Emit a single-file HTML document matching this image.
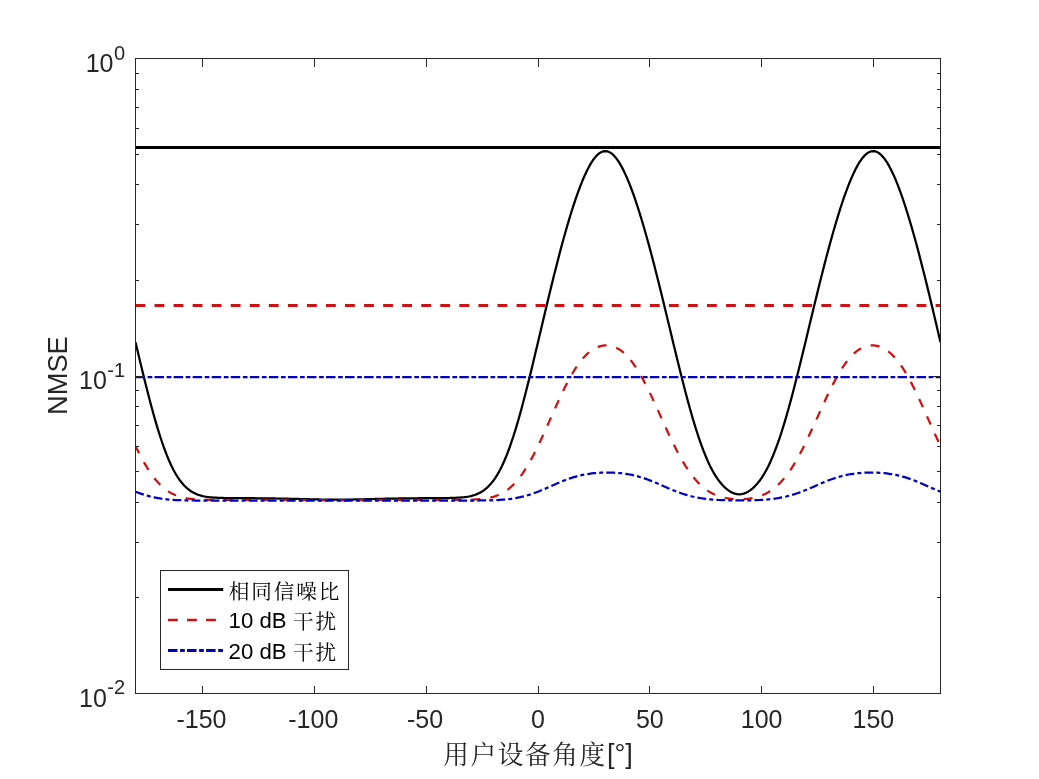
<!DOCTYPE html>
<html lang="zh"><head><meta charset="utf-8"><title>NMSE</title>
<style>html,body{margin:0;padding:0;background:#fff}svg{display:block}text{font-family:"Liberation Sans","Noto Sans CJK SC",sans-serif}.cjk{font-weight:400;font-family:"Liberation Sans","Noto Serif CJK SC","Noto Sans CJK SC",serif}</style></head><body>
<svg width="1039" height="779" viewBox="0 0 1039 779">
<rect width="1039" height="779" fill="#fff"/>
<clipPath id="c"><rect x="135.5" y="58.5" width="805.0" height="635.0"/></clipPath>
<g clip-path="url(#c)" fill="none" stroke-linejoin="round">
<path d="M135.5,147.5 H940.5" stroke="#000" stroke-width="3"/>
<path d="M135.50,342.16 L137.74,351.60 L139.97,360.98 L142.21,370.24 L144.44,379.37 L146.68,388.33 L148.92,397.06 L151.15,405.55 L153.39,413.74 L155.62,421.62 L157.86,429.13 L160.10,436.26 L162.33,442.98 L164.57,449.27 L166.81,455.12 L169.04,460.51 L171.28,465.45 L173.51,469.94 L175.75,473.97 L177.99,477.58 L180.22,480.78 L182.46,483.59 L184.69,486.04 L186.93,488.15 L189.17,489.96 L191.40,491.49 L193.64,492.78 L195.88,493.85 L198.11,494.73 L200.35,495.46 L202.58,496.04 L204.82,496.51 L207.06,496.88 L209.29,497.18 L211.53,497.41 L213.76,497.59 L216.00,497.73 L218.24,497.84 L220.47,497.93 L222.71,497.99 L224.94,498.04 L227.18,498.08 L229.42,498.11 L231.65,498.13 L233.89,498.15 L236.12,498.16 L238.36,498.17 L240.60,498.19 L242.83,498.19 L245.07,498.20 L247.31,498.21 L249.54,498.22 L251.78,498.23 L254.01,498.24 L256.25,498.26 L258.49,498.27 L260.72,498.29 L262.96,498.31 L265.19,498.34 L267.43,498.36 L269.67,498.39 L271.90,498.43 L274.14,498.46 L276.38,498.50 L278.61,498.54 L280.85,498.58 L283.08,498.62 L285.32,498.67 L287.56,498.71 L289.79,498.76 L292.03,498.81 L294.26,498.87 L296.50,498.92 L298.74,498.97 L300.97,499.03 L303.21,499.08 L305.44,499.14 L307.68,499.20 L309.92,499.25 L312.15,499.31 L314.39,499.36 L316.62,499.42 L318.86,499.47 L321.10,499.52 L323.33,499.57 L325.57,499.61 L327.81,499.65 L330.04,499.68 L332.28,499.71 L334.51,499.72 L336.75,499.73 L338.99,499.72 L341.22,499.71 L343.46,499.68 L345.69,499.65 L347.93,499.61 L350.17,499.57 L352.40,499.52 L354.64,499.47 L356.88,499.42 L359.11,499.36 L361.35,499.31 L363.58,499.25 L365.82,499.20 L368.06,499.14 L370.29,499.08 L372.53,499.03 L374.76,498.97 L377.00,498.92 L379.24,498.87 L381.47,498.81 L383.71,498.76 L385.94,498.71 L388.18,498.67 L390.42,498.62 L392.65,498.58 L394.89,498.54 L397.12,498.50 L399.36,498.46 L401.60,498.43 L403.83,498.39 L406.07,498.36 L408.31,498.34 L410.54,498.31 L412.78,498.29 L415.01,498.27 L417.25,498.26 L419.49,498.24 L421.72,498.23 L423.96,498.22 L426.19,498.21 L428.43,498.20 L430.67,498.19 L432.90,498.19 L435.14,498.17 L437.38,498.16 L439.61,498.15 L441.85,498.13 L444.08,498.11 L446.32,498.08 L448.56,498.04 L450.79,497.99 L453.03,497.93 L455.26,497.84 L457.50,497.73 L459.74,497.59 L461.97,497.41 L464.21,497.18 L466.44,496.88 L468.68,496.51 L470.92,496.04 L473.15,495.46 L475.39,494.73 L477.62,493.85 L479.86,492.78 L482.10,491.49 L484.33,489.96 L486.57,488.15 L488.81,486.04 L491.04,483.59 L493.28,480.78 L495.51,477.58 L497.75,473.97 L499.99,469.94 L502.22,465.45 L504.46,460.51 L506.69,455.12 L508.93,449.27 L511.17,442.98 L513.40,436.26 L515.64,429.13 L517.88,421.62 L520.11,413.74 L522.35,405.55 L524.58,397.06 L526.82,388.33 L529.06,379.37 L531.29,370.24 L533.53,360.98 L535.76,351.60 L538.00,342.16 L540.24,332.69 L542.47,323.21 L544.71,313.77 L546.94,304.38 L549.18,295.08 L551.42,285.88 L553.65,276.82 L555.89,267.91 L558.12,259.18 L560.36,250.64 L562.60,242.32 L564.83,234.23 L567.07,226.39 L569.31,218.82 L571.54,211.54 L573.78,204.56 L576.01,197.90 L578.25,191.58 L580.49,185.63 L582.72,180.07 L584.96,174.91 L587.19,170.19 L589.43,165.92 L591.67,162.15 L593.90,158.88 L596.14,156.16 L598.38,154.00 L600.61,152.42 L602.85,151.44 L605.08,151.07 L607.32,151.32 L609.56,152.18 L611.79,153.64 L614.03,155.69 L616.26,158.30 L618.50,161.45 L620.74,165.12 L622.97,169.27 L625.21,173.89 L627.44,178.95 L629.68,184.41 L631.92,190.26 L634.15,196.47 L636.39,203.02 L638.62,209.89 L640.86,217.06 L643.10,224.52 L645.33,232.24 L647.57,240.21 L649.81,248.40 L652.04,256.80 L654.28,265.40 L656.51,274.16 L658.75,283.07 L660.99,292.11 L663.22,301.26 L665.46,310.49 L667.69,319.77 L669.93,329.08 L672.17,338.39 L674.40,347.67 L676.64,356.88 L678.88,366.00 L681.11,375.00 L683.35,383.82 L685.58,392.46 L687.82,400.86 L690.06,408.99 L692.29,416.83 L694.53,424.35 L696.76,431.51 L699.00,438.30 L701.24,444.70 L703.47,450.69 L705.71,456.26 L707.94,461.41 L710.18,466.15 L712.42,470.46 L714.65,474.38 L716.89,477.89 L719.12,481.04 L721.36,483.82 L723.60,486.26 L725.83,488.36 L728.07,490.16 L730.31,491.64 L732.54,492.81 L734.78,493.66 L737.01,494.18 L739.25,494.35 L741.49,494.18 L743.72,493.66 L745.96,492.81 L748.19,491.64 L750.43,490.16 L752.67,488.36 L754.90,486.26 L757.14,483.82 L759.38,481.04 L761.61,477.89 L763.85,474.38 L766.08,470.46 L768.32,466.15 L770.56,461.41 L772.79,456.26 L775.03,450.69 L777.26,444.70 L779.50,438.30 L781.74,431.51 L783.97,424.35 L786.21,416.83 L788.44,408.99 L790.68,400.86 L792.92,392.46 L795.15,383.82 L797.39,375.00 L799.62,366.00 L801.86,356.88 L804.10,347.67 L806.33,338.39 L808.57,329.08 L810.81,319.77 L813.04,310.49 L815.28,301.26 L817.51,292.11 L819.75,283.07 L821.99,274.16 L824.22,265.40 L826.46,256.80 L828.69,248.40 L830.93,240.21 L833.17,232.24 L835.40,224.52 L837.64,217.06 L839.88,209.89 L842.11,203.02 L844.35,196.47 L846.58,190.26 L848.82,184.41 L851.06,178.95 L853.29,173.89 L855.53,169.27 L857.76,165.12 L860.00,161.45 L862.24,158.30 L864.47,155.69 L866.71,153.64 L868.94,152.18 L871.18,151.32 L873.42,151.07 L875.65,151.44 L877.89,152.42 L880.12,154.00 L882.36,156.16 L884.60,158.88 L886.83,162.15 L889.07,165.92 L891.31,170.19 L893.54,174.91 L895.78,180.07 L898.01,185.63 L900.25,191.58 L902.49,197.90 L904.72,204.56 L906.96,211.54 L909.19,218.82 L911.43,226.39 L913.67,234.23 L915.90,242.32 L918.14,250.64 L920.38,259.18 L922.61,267.91 L924.85,276.82 L927.08,285.88 L929.32,295.08 L931.56,304.38 L933.79,313.77 L936.03,323.21 L938.26,332.69 L940.50,342.16" stroke="#000" stroke-width="2.25"/>
<path d="M135.5,305.5 H940.5" stroke="#cc1212" stroke-width="3" stroke-dasharray="9.8 9.25"/>
<path d="M135.50,446.02 L137.74,450.57 L139.97,454.96 L142.21,459.16 L144.44,463.15 L146.68,466.93 L148.92,470.49 L151.15,473.81 L153.39,476.89 L155.62,479.72 L157.86,482.32 L160.10,484.67 L162.33,486.80 L164.57,488.70 L166.81,490.39 L169.04,491.89 L171.28,493.19 L173.51,494.32 L175.75,495.30 L177.99,496.13 L180.22,496.84 L182.46,497.43 L184.69,497.92 L186.93,498.33 L189.17,498.66 L191.40,498.94 L193.64,499.15 L195.88,499.33 L198.11,499.47 L200.35,499.58 L202.58,499.66 L204.82,499.73 L207.06,499.78 L209.29,499.82 L211.53,499.85 L213.76,499.87 L216.00,499.88 L218.24,499.89 L220.47,499.90 L222.71,499.91 L224.94,499.91 L227.18,499.91 L229.42,499.91 L231.65,499.91 L233.89,499.91 L236.12,499.91 L238.36,499.90 L240.60,499.90 L242.83,499.89 L245.07,499.89 L247.31,499.88 L249.54,499.88 L251.78,499.87 L254.01,499.87 L256.25,499.87 L258.49,499.86 L260.72,499.86 L262.96,499.86 L265.19,499.85 L267.43,499.85 L269.67,499.85 L271.90,499.86 L274.14,499.86 L276.38,499.86 L278.61,499.87 L280.85,499.88 L283.08,499.89 L285.32,499.90 L287.56,499.91 L289.79,499.92 L292.03,499.94 L294.26,499.96 L296.50,499.97 L298.74,499.99 L300.97,500.01 L303.21,500.03 L305.44,500.05 L307.68,500.07 L309.92,500.09 L312.15,500.12 L314.39,500.14 L316.62,500.16 L318.86,500.18 L321.10,500.20 L323.33,500.22 L325.57,500.24 L327.81,500.25 L330.04,500.26 L332.28,500.27 L334.51,500.28 L336.75,500.28 L338.99,500.28 L341.22,500.27 L343.46,500.26 L345.69,500.25 L347.93,500.24 L350.17,500.22 L352.40,500.20 L354.64,500.18 L356.88,500.16 L359.11,500.14 L361.35,500.12 L363.58,500.09 L365.82,500.07 L368.06,500.05 L370.29,500.03 L372.53,500.01 L374.76,499.99 L377.00,499.97 L379.24,499.96 L381.47,499.94 L383.71,499.92 L385.94,499.91 L388.18,499.90 L390.42,499.89 L392.65,499.88 L394.89,499.87 L397.12,499.86 L399.36,499.86 L401.60,499.86 L403.83,499.85 L406.07,499.85 L408.31,499.85 L410.54,499.86 L412.78,499.86 L415.01,499.86 L417.25,499.87 L419.49,499.87 L421.72,499.87 L423.96,499.88 L426.19,499.88 L428.43,499.89 L430.67,499.89 L432.90,499.90 L435.14,499.90 L437.38,499.91 L439.61,499.91 L441.85,499.91 L444.08,499.91 L446.32,499.91 L448.56,499.91 L450.79,499.91 L453.03,499.90 L455.26,499.89 L457.50,499.88 L459.74,499.87 L461.97,499.85 L464.21,499.82 L466.44,499.78 L468.68,499.73 L470.92,499.66 L473.15,499.58 L475.39,499.47 L477.62,499.33 L479.86,499.15 L482.10,498.94 L484.33,498.66 L486.57,498.33 L488.81,497.92 L491.04,497.43 L493.28,496.84 L495.51,496.13 L497.75,495.30 L499.99,494.32 L502.22,493.19 L504.46,491.89 L506.69,490.39 L508.93,488.70 L511.17,486.80 L513.40,484.67 L515.64,482.32 L517.88,479.72 L520.11,476.89 L522.35,473.81 L524.58,470.49 L526.82,466.93 L529.06,463.15 L531.29,459.16 L533.53,454.96 L535.76,450.57 L538.00,446.02 L540.24,441.33 L542.47,436.51 L544.71,431.60 L546.94,426.61 L549.18,421.59 L551.42,416.55 L553.65,411.52 L555.89,406.53 L558.12,401.61 L560.36,396.79 L562.60,392.08 L564.83,387.52 L567.07,383.13 L569.31,378.93 L571.54,374.94 L573.78,371.17 L576.01,367.65 L578.25,364.37 L580.49,361.37 L582.72,358.62 L584.96,356.15 L587.19,353.95 L589.43,352.01 L591.67,350.34 L593.90,348.92 L596.14,347.76 L598.38,346.83 L600.61,346.15 L602.85,345.69 L605.08,345.47 L607.32,345.47 L609.56,345.70 L611.79,346.16 L614.03,346.85 L616.26,347.79 L618.50,348.98 L620.74,350.43 L622.97,352.15 L625.21,354.13 L627.44,356.39 L629.68,358.93 L631.92,361.75 L634.15,364.83 L636.39,368.17 L638.62,371.76 L640.86,375.59 L643.10,379.63 L645.33,383.87 L647.57,388.29 L649.81,392.86 L652.04,397.55 L654.28,402.35 L656.51,407.22 L658.75,412.15 L660.99,417.09 L663.22,422.04 L665.46,426.95 L667.69,431.81 L669.93,436.59 L672.17,441.26 L674.40,445.82 L676.64,450.22 L678.88,454.47 L681.11,458.53 L683.35,462.40 L685.58,466.07 L687.82,469.52 L690.06,472.76 L692.29,475.77 L694.53,478.56 L696.76,481.13 L699.00,483.48 L701.24,485.62 L703.47,487.55 L705.71,489.29 L707.94,490.84 L710.18,492.22 L712.42,493.44 L714.65,494.50 L716.89,495.43 L719.12,496.23 L721.36,496.92 L723.60,497.50 L725.83,497.99 L728.07,498.39 L730.31,498.71 L732.54,498.95 L734.78,499.12 L737.01,499.22 L739.25,499.26 L741.49,499.22 L743.72,499.12 L745.96,498.95 L748.19,498.71 L750.43,498.39 L752.67,497.99 L754.90,497.50 L757.14,496.92 L759.38,496.23 L761.61,495.43 L763.85,494.50 L766.08,493.44 L768.32,492.22 L770.56,490.84 L772.79,489.29 L775.03,487.55 L777.26,485.62 L779.50,483.48 L781.74,481.13 L783.97,478.56 L786.21,475.77 L788.44,472.76 L790.68,469.52 L792.92,466.07 L795.15,462.40 L797.39,458.53 L799.62,454.47 L801.86,450.22 L804.10,445.82 L806.33,441.26 L808.57,436.59 L810.81,431.81 L813.04,426.95 L815.28,422.04 L817.51,417.09 L819.75,412.15 L821.99,407.22 L824.22,402.35 L826.46,397.55 L828.69,392.86 L830.93,388.29 L833.17,383.87 L835.40,379.63 L837.64,375.59 L839.88,371.76 L842.11,368.17 L844.35,364.83 L846.58,361.75 L848.82,358.93 L851.06,356.39 L853.29,354.13 L855.53,352.15 L857.76,350.43 L860.00,348.98 L862.24,347.79 L864.47,346.85 L866.71,346.16 L868.94,345.70 L871.18,345.47 L873.42,345.47 L875.65,345.69 L877.89,346.15 L880.12,346.83 L882.36,347.76 L884.60,348.92 L886.83,350.34 L889.07,352.01 L891.31,353.95 L893.54,356.15 L895.78,358.62 L898.01,361.37 L900.25,364.37 L902.49,367.65 L904.72,371.17 L906.96,374.94 L909.19,378.93 L911.43,383.13 L913.67,387.52 L915.90,392.08 L918.14,396.79 L920.38,401.61 L922.61,406.53 L924.85,411.52 L927.08,416.55 L929.32,421.59 L931.56,426.61 L933.79,431.60 L936.03,436.51 L938.26,441.33 L940.50,446.02" stroke="#cc1212" stroke-width="2.25" stroke-dasharray="9.0 10.05" stroke-dashoffset="0.8"/>
<path d="M135.5,377 H940.5" stroke="#0000c0" stroke-width="2.25" stroke-dasharray="9.5 2.6 4.7 2.25"/>
<path d="M135.50,491.68 L137.74,492.54 L139.97,493.35 L142.21,494.12 L144.44,494.84 L146.68,495.51 L148.92,496.13 L151.15,496.70 L153.39,497.22 L155.62,497.68 L157.86,498.10 L160.10,498.47 L162.33,498.80 L164.57,499.08 L166.81,499.33 L169.04,499.55 L171.28,499.73 L173.51,499.88 L175.75,500.02 L177.99,500.12 L180.22,500.21 L182.46,500.29 L184.69,500.35 L186.93,500.40 L189.17,500.44 L191.40,500.47 L193.64,500.49 L195.88,500.51 L198.11,500.53 L200.35,500.54 L202.58,500.55 L204.82,500.56 L207.06,500.56 L209.29,500.57 L211.53,500.57 L213.76,500.57 L216.00,500.57 L218.24,500.57 L220.47,500.57 L222.71,500.57 L224.94,500.57 L227.18,500.57 L229.42,500.57 L231.65,500.57 L233.89,500.57 L236.12,500.56 L238.36,500.56 L240.60,500.56 L242.83,500.56 L245.07,500.56 L247.31,500.55 L249.54,500.55 L251.78,500.55 L254.01,500.55 L256.25,500.54 L258.49,500.54 L260.72,500.54 L262.96,500.54 L265.19,500.53 L267.43,500.53 L269.67,500.53 L271.90,500.53 L274.14,500.52 L276.38,500.52 L278.61,500.52 L280.85,500.52 L283.08,500.52 L285.32,500.52 L287.56,500.51 L289.79,500.51 L292.03,500.51 L294.26,500.52 L296.50,500.52 L298.74,500.52 L300.97,500.52 L303.21,500.52 L305.44,500.53 L307.68,500.53 L309.92,500.53 L312.15,500.54 L314.39,500.54 L316.62,500.55 L318.86,500.55 L321.10,500.56 L323.33,500.56 L325.57,500.56 L327.81,500.57 L330.04,500.57 L332.28,500.57 L334.51,500.57 L336.75,500.57 L338.99,500.57 L341.22,500.57 L343.46,500.57 L345.69,500.57 L347.93,500.56 L350.17,500.56 L352.40,500.56 L354.64,500.55 L356.88,500.55 L359.11,500.54 L361.35,500.54 L363.58,500.53 L365.82,500.53 L368.06,500.53 L370.29,500.52 L372.53,500.52 L374.76,500.52 L377.00,500.52 L379.24,500.52 L381.47,500.51 L383.71,500.51 L385.94,500.51 L388.18,500.52 L390.42,500.52 L392.65,500.52 L394.89,500.52 L397.12,500.52 L399.36,500.52 L401.60,500.53 L403.83,500.53 L406.07,500.53 L408.31,500.53 L410.54,500.54 L412.78,500.54 L415.01,500.54 L417.25,500.54 L419.49,500.55 L421.72,500.55 L423.96,500.55 L426.19,500.55 L428.43,500.56 L430.67,500.56 L432.90,500.56 L435.14,500.56 L437.38,500.56 L439.61,500.57 L441.85,500.57 L444.08,500.57 L446.32,500.57 L448.56,500.57 L450.79,500.57 L453.03,500.57 L455.26,500.57 L457.50,500.57 L459.74,500.57 L461.97,500.57 L464.21,500.57 L466.44,500.56 L468.68,500.56 L470.92,500.55 L473.15,500.54 L475.39,500.53 L477.62,500.51 L479.86,500.49 L482.10,500.47 L484.33,500.44 L486.57,500.40 L488.81,500.35 L491.04,500.29 L493.28,500.21 L495.51,500.12 L497.75,500.02 L499.99,499.88 L502.22,499.73 L504.46,499.55 L506.69,499.33 L508.93,499.08 L511.17,498.80 L513.40,498.47 L515.64,498.10 L517.88,497.68 L520.11,497.22 L522.35,496.70 L524.58,496.13 L526.82,495.51 L529.06,494.84 L531.29,494.12 L533.53,493.35 L535.76,492.54 L538.00,491.68 L540.24,490.78 L542.47,489.85 L544.71,488.90 L546.94,487.93 L549.18,486.94 L551.42,485.94 L553.65,484.95 L555.89,483.97 L558.12,483.00 L560.36,482.06 L562.60,481.15 L564.83,480.27 L567.07,479.43 L569.31,478.63 L571.54,477.89 L573.78,477.19 L576.01,476.55 L578.25,475.96 L580.49,475.42 L582.72,474.93 L584.96,474.50 L587.19,474.11 L589.43,473.77 L591.67,473.48 L593.90,473.23 L596.14,473.03 L598.38,472.86 L600.61,472.74 L602.85,472.65 L605.08,472.59 L607.32,472.58 L609.56,472.59 L611.79,472.65 L614.03,472.74 L616.26,472.87 L618.50,473.03 L620.74,473.24 L622.97,473.49 L625.21,473.78 L627.44,474.12 L629.68,474.51 L631.92,474.95 L634.15,475.44 L636.39,475.99 L638.62,476.59 L640.86,477.24 L643.10,477.94 L645.33,478.69 L647.57,479.49 L649.81,480.33 L652.04,481.22 L654.28,482.13 L656.51,483.07 L658.75,484.03 L660.99,485.01 L663.22,485.99 L665.46,486.97 L667.69,487.94 L669.93,488.89 L672.17,489.83 L674.40,490.73 L676.64,491.61 L678.88,492.44 L681.11,493.23 L683.35,493.98 L685.58,494.68 L687.82,495.34 L690.06,495.94 L692.29,496.50 L694.53,497.01 L696.76,497.47 L699.00,497.89 L701.24,498.26 L703.47,498.59 L705.71,498.89 L707.94,499.14 L710.18,499.37 L712.42,499.56 L714.65,499.73 L716.89,499.88 L719.12,500.00 L721.36,500.10 L723.60,500.19 L725.83,500.26 L728.07,500.31 L730.31,500.36 L732.54,500.39 L734.78,500.41 L737.01,500.43 L739.25,500.43 L741.49,500.43 L743.72,500.41 L745.96,500.39 L748.19,500.36 L750.43,500.31 L752.67,500.26 L754.90,500.19 L757.14,500.10 L759.38,500.00 L761.61,499.88 L763.85,499.73 L766.08,499.56 L768.32,499.37 L770.56,499.14 L772.79,498.89 L775.03,498.59 L777.26,498.26 L779.50,497.89 L781.74,497.47 L783.97,497.01 L786.21,496.50 L788.44,495.94 L790.68,495.34 L792.92,494.68 L795.15,493.98 L797.39,493.23 L799.62,492.44 L801.86,491.61 L804.10,490.73 L806.33,489.83 L808.57,488.89 L810.81,487.94 L813.04,486.97 L815.28,485.99 L817.51,485.01 L819.75,484.03 L821.99,483.07 L824.22,482.13 L826.46,481.22 L828.69,480.33 L830.93,479.49 L833.17,478.69 L835.40,477.94 L837.64,477.24 L839.88,476.59 L842.11,475.99 L844.35,475.44 L846.58,474.95 L848.82,474.51 L851.06,474.12 L853.29,473.78 L855.53,473.49 L857.76,473.24 L860.00,473.03 L862.24,472.87 L864.47,472.74 L866.71,472.65 L868.94,472.59 L871.18,472.58 L873.42,472.59 L875.65,472.65 L877.89,472.74 L880.12,472.86 L882.36,473.03 L884.60,473.23 L886.83,473.48 L889.07,473.77 L891.31,474.11 L893.54,474.50 L895.78,474.93 L898.01,475.42 L900.25,475.96 L902.49,476.55 L904.72,477.19 L906.96,477.89 L909.19,478.63 L911.43,479.43 L913.67,480.27 L915.90,481.15 L918.14,482.06 L920.38,483.00 L922.61,483.97 L924.85,484.95 L927.08,485.94 L929.32,486.94 L931.56,487.93 L933.79,488.90 L936.03,489.85 L938.26,490.78 L940.50,491.68" stroke="#0000c0" stroke-width="2.25" stroke-dasharray="8.8 3.1 4.0 3.15"/>
</g>
<g stroke="#262626" stroke-width="1" fill="none" shape-rendering="crispEdges">
<rect x="135.5" y="58.5" width="805.0" height="635.0"/>
<path d="M202.5,693.5v-8M202.5,58.5v8M314.5,693.5v-8M314.5,58.5v8M426.5,693.5v-8M426.5,58.5v8M538.5,693.5v-8M538.5,58.5v8M649.5,693.5v-8M649.5,58.5v8M761.5,693.5v-8M761.5,58.5v8M873.5,693.5v-8M873.5,58.5v8M135.5,376.5h8M940.5,376.5h-8M135.5,280.5h3.5M940.5,280.5h-3.5M135.5,224.5h3.5M940.5,224.5h-3.5M135.5,184.5h3.5M940.5,184.5h-3.5M135.5,154.5h3.5M940.5,154.5h-3.5M135.5,128.5h3.5M940.5,128.5h-3.5M135.5,107.5h3.5M940.5,107.5h-3.5M135.5,89.5h3.5M940.5,89.5h-3.5M135.5,73.5h3.5M940.5,73.5h-3.5M135.5,597.5h3.5M940.5,597.5h-3.5M135.5,542.5h3.5M940.5,542.5h-3.5M135.5,502.5h3.5M940.5,502.5h-3.5M135.5,471.5h3.5M940.5,471.5h-3.5M135.5,446.5h3.5M940.5,446.5h-3.5M135.5,425.5h3.5M940.5,425.5h-3.5M135.5,406.5h3.5M940.5,406.5h-3.5M135.5,390.5h3.5M940.5,390.5h-3.5"/>
</g>
<g fill="#262626" font-size="25" text-anchor="middle">
<text x="201.5" y="728.2">-150</text>
<text x="313.3" y="728.2">-100</text>
<text x="425.1" y="728.2">-50</text>
<text x="538.0" y="728.2">0</text>
<text x="649.8" y="728.2">50</text>
<text x="761.6" y="728.2">100</text>
<text x="873.4" y="728.2">150</text>
</g>
<g fill="#262626" font-size="25" text-anchor="end">
<text x="113.48" y="71.8">10</text>
<text x="113.98" y="59.5" font-size="20" text-anchor="start">0</text>
<text x="106.82" y="389.3">10</text>
<text x="107.32" y="376.5" font-size="20" text-anchor="start">-1</text>
<text x="106.82" y="706.8">10</text>
<text x="107.32" y="694.0" font-size="20" text-anchor="start">-2</text>
</g>
<text class="cjk" x="538" y="764" font-size="27.2" fill="#262626" text-anchor="middle"><tspan font-size="25.6" letter-spacing="1.7">用户设备角度</tspan><tspan dy="-0.8">[°]</tspan></text>
<text transform="translate(66.8,375.6) rotate(-90) scale(0.975,1)" font-size="27.9" fill="#262626" text-anchor="middle">NMSE</text>
<rect x="160.5" y="570.5" width="188" height="99" fill="#fff" stroke="#262626" stroke-width="1" shape-rendering="crispEdges"/>
<g fill="none" stroke-width="2.47">
<path d="M168,589.5H223.2" stroke="#000" stroke-width="3"/>
<path d="M168,620H223.2" stroke="#cc1212" stroke-dasharray="9.8 9.25"/>
<path d="M168,650.5H223.2" stroke="#0000c0" stroke-width="3" stroke-dasharray="9.5 2.6 4.7 2.25"/>
</g>
<g class="cjk" fill="#000" font-size="22.2">
<text class="cjk" x="228.6" y="597.5"><tspan font-size="20.6" letter-spacing="1.9" dx="0.2" dy="1.0">相同信噪比</tspan></text>
<text class="cjk" x="228.6" y="628.3">10 dB <tspan font-size="20.6" letter-spacing="1.9" dx="0.2" dy="1.0">干扰</tspan></text>
<text class="cjk" x="228.6" y="659">20 dB <tspan font-size="20.6" letter-spacing="1.9" dx="0.2" dy="1.0">干扰</tspan></text>
</g>
</svg></body></html>
